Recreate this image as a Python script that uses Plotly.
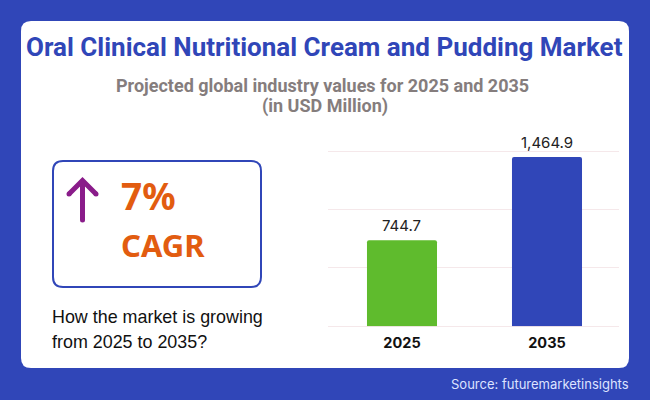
import plotly.graph_objects as go

years = ["2025", "2035"]
values = [744.7, 1464.9]
value_labels = ["744.7", "1,464.9"]
bar_colors = ["#5FBB2D", "#3046B8"]
grid_ticks = [0, 505, 1010, 1515]

BLUE = "#3046B8"
PURPLE = "#8A1C8A"
W, H = 650, 400


def px(x):
    return x / W


def py(y):
    return 1 - y / H


def rounded_rect(x0, y0, x1, y1, r):
    # path in paper coords, input in pixels from top left
    pts = [
        f"M {px(x0 + r)} {py(y0)}",
        f"L {px(x1 - r)} {py(y0)}",
        f"Q {px(x1)} {py(y0)} {px(x1)} {py(y0 + r)}",
        f"L {px(x1)} {py(y1 - r)}",
        f"Q {px(x1)} {py(y1)} {px(x1 - r)} {py(y1)}",
        f"L {px(x0 + r)} {py(y1)}",
        f"Q {px(x0)} {py(y1)} {px(x0)} {py(y1 - r)}",
        f"L {px(x0)} {py(y0 + r)}",
        f"Q {px(x0)} {py(y0)} {px(x0 + r)} {py(y0)}",
        "Z",
    ]
    return " ".join(pts)


def label(text, x, y, size, color, family, bold=False, xanchor="left"):
    if bold:
        text = f"<b>{text}</b>"
    return dict(
        text=text, x=px(x), y=py(y), xref="paper", yref="paper",
        xanchor=xanchor, yanchor="middle", showarrow=False,
        font=dict(size=size, color=color, family=family),
    )


def cap(x, y, r=2.5):
    # round line end for the arrow
    return dict(type="circle", xref="paper", yref="paper", layer="above",
                x0=px(x - r), x1=px(x + r), y0=py(y + r), y1=py(y - r),
                fillcolor=PURPLE, line=dict(width=0))


fig = go.Figure()

fig.add_trace(go.Bar(
    x=years, y=values,
    width=0.483,
    marker=dict(color=bar_colors, line=dict(width=0), cornerradius=2),
))

shapes = [
    # white card
    dict(type="path", path=rounded_rect(21, 21, 629, 368, 10), xref="paper", yref="paper",
         fillcolor="white", line=dict(width=0), layer="below"),
    # CAGR box
    dict(type="path", path=rounded_rect(53, 161, 261, 287, 10), xref="paper", yref="paper",
         fillcolor="white", line=dict(color=BLUE, width=2), layer="below"),
    # arrow
    dict(type="path", xref="paper", yref="paper", layer="above",
         path=f"M {px(82.5)} {py(220)} L {px(82.5)} {py(181)} M {px(69)} {py(194)} L {px(82.5)} {py(180.5)} L {px(96)} {py(194)}",
         line=dict(color=PURPLE, width=5)),
    cap(82.5, 220), cap(69, 194), cap(96, 194),
]

annotations = [
    label("Oral Clinical Nutritional Cream and Pudding Market", 324.5, 47, 26, BLUE, "Roboto", True, "center"),
    label("Projected global industry values for 2025 and 2035", 322.5, 86, 18, "#857D7D", "Roboto", True, "center"),
    label("(in USD Million)", 325, 106, 18, "#857D7D", "Roboto", True, "center"),
    label("7%", 119, 195, 37, "#E25C10", "Noto Sans", True),
    label("CAGR", 118.5, 245, 31, "#E25C10", "Noto Sans", True),
    label("How the market is growing", 50, 316.5, 17.9, "#111111", "Liberation Sans"),
    label("from 2025 to 2035?", 50, 341.5, 17.9, "#111111", "Liberation Sans"),
    label("Source: futuremarketinsights", 631, 384, 13, "#DDE3FF", "Inter", False, "right"),
]

# value labels sit on the bars through the data scale (category axis wants the index)
for i, (value, text) in enumerate(zip(values, value_labels)):
    annotations.append(dict(
        text=text, x=i, y=value, xref="x", yref="y",
        yanchor="middle", yshift=15, showarrow=False,
        font=dict(size=15, color="#222222", family="Inter"),
    ))

fig.update_layout(
    width=W, height=H,
    margin=dict(l=0, r=0, t=0, b=0),
    paper_bgcolor=BLUE,
    plot_bgcolor="rgba(0,0,0,0)",
    showlegend=False,
    shapes=shapes,
    annotations=annotations,
    xaxis=dict(
        domain=[px(328), px(619)],
        type="category",
        # bars sit slightly right of the grid's centre in the original
        range=[-0.5103, 1.4966],
        showgrid=False, zeroline=False, showline=False,
        ticks="",
        ticklabelstandoff=6,
        tickfont=dict(size=14.5, color="#111111", family="Inter", weight="bold"),
    ),
    yaxis=dict(
        domain=[py(326.3), py(149.0)],
        range=[0, 1535],
        tickvals=grid_ticks,
        showticklabels=False,
        gridcolor="#F5E8EA", gridwidth=1,
        zeroline=True, zerolinecolor="#F5E8EA", zerolinewidth=1,
        showline=False,
    ),
)

# page body margin would push the 650x400 figure off the window
fig.write_html("out.html", config=dict(displayModeBar=False),
               post_script="document.body.style.margin='0';")
